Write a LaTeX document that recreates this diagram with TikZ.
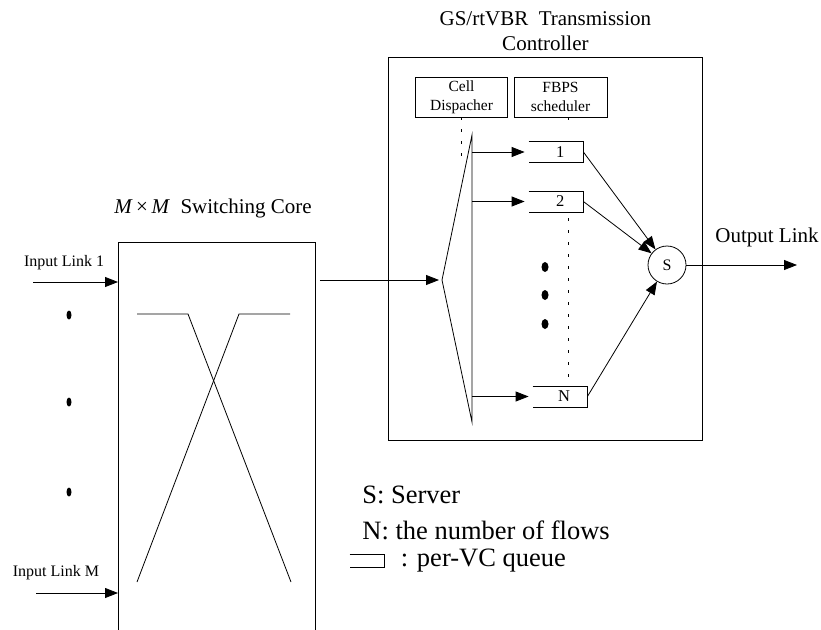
\documentclass[tikz,border=0pt]{standalone}
\usepackage{fontspec}
\setmainfont{Liberation Serif}
\usetikzlibrary{shapes,arrows.meta,positioning,calc}

\tikzset{
  >={Triangle[length=13pt,width=10pt]},
  linklabel/.style={font=\fontsize{16}{18}\selectfont},
  biglabel/.style={font=\fontsize{21}{25}\selectfont},
  legend/.style={font=\fontsize{26.5}{30}\selectfont, anchor=west, inner sep=0pt},
  smallbox/.style={draw, minimum width=92pt, minimum height=40pt, align=center,
    inner sep=1pt, font=\fontsize{15.5}{19}\selectfont},
  vcqueue/.style={minimum width=54pt, minimum height=20pt, inner sep=0pt,
    font=\fontsize{16.5}{17}\selectfont},
  dots/.style={dash pattern=on 3pt off 9pt},
}

\begin{document}
\begin{tikzpicture}[x=1pt, y=-1pt, line width=0.8pt]
\useasboundingbox (0,0) rectangle (821,629);
\clip (0,0) rectangle (821,629);

% switching core
\node[draw, anchor=north west, minimum width=197pt, minimum height=420pt] (core) at (118,242) {};
\node[biglabel] (corelbl) at (213,208) {\textit{M}\,×\,\textit{M}\ \ Switching Core};
\draw (137,314) -- (188,314) -- (291,582);
\draw (290,314) -- (239,314) -- (137,582);

% input links
\coordinate (in1) at (33,282);
\coordinate (inM) at (36,593);
\draw[->] (in1) -- (in1 -| core.west);
\draw[->] (inM) -- (inM -| core.west);
\node[linklabel] (in1lbl) at (64,263) {Input Link 1};
\node[linklabel] (inMlbl) at (56,573) {Input Link M};
\foreach \y in {315,402,492}
  \fill (69,\y) ellipse [x radius=2.5pt, y radius=4.5pt];

% transmission controller
\node[draw, anchor=north west, minimum width=314pt, minimum height=383pt] (ctrl) at (388,57) {};
\node[biglabel, align=center, inner sep=0pt, above=6pt of ctrl] (ctrllbl) {GS/rtVBR\ \ Transmission\\Controller};
\node[smallbox] (cellbox) at (461.5,97) {Cell\\Dispacher};
\node[smallbox, minimum width=93pt] (fbpsbox) at (560.5,97) {FBPS\\scheduler};

% cell dispacher
\coordinate (dtip) at (442,280);
\coordinate (dtop) at (472,135);
\coordinate (dbot) at (472,422);
\draw (dtip) -- (dtop) -- (dbot) -- cycle;
\draw[->, shorten >=3pt] ($(core.east |- dtip)+(4,0)$) -- (dtip);

% per-VC queues
\node[vcqueue] (q1) at (556,152) {\ \ 1};
\node[vcqueue] (q2) at (556,201.5) {\ \ 2};
\node[vcqueue] (qN) at (560,396.5) {\ \ N};
\node[minimum width=34pt, minimum height=12pt, inner sep=0pt] (legq) at (367,561) {};
\foreach \q in {q1,q2,qN,legq}
  \draw (\q.north west) -- (\q.north east) -- (\q.south east) -- (\q.south west);
\foreach \q in {q1,q2,qN}
  \draw[->, shorten >=4pt] (dtop |- \q.west) -- (\q.west);

% server
\node[draw, circle, minimum size=38pt, inner sep=0pt, font=\fontsize{16}{17}\selectfont] (srv) at (667,265) {S};
\foreach \q in {q1,q2,qN}
  \draw[->] (\q.east) -- (srv);
\coordinate (out) at (797,265);
\draw[->] (srv) -- (out);
\node[biglabel] (outlbl) at (767,237) {Output Link};

\foreach \y in {267,295,324}
  \fill (545,\y) ellipse [x radius=3.5pt, y radius=5pt];
\draw[dots] (cellbox.south) -- ++(0,42);
\draw[dots] (568,117) -- (568,128);
\draw[dots] (568,218) -- (568,380);

% legend
\node[legend] (legS) at (362,495) {S: Server};
\node[legend] (legN) at (362,530) {N: the number of flows};
\node[legend, right=16pt of legq] (legQ) {: per-VC queue};
\end{tikzpicture}
\end{document}
